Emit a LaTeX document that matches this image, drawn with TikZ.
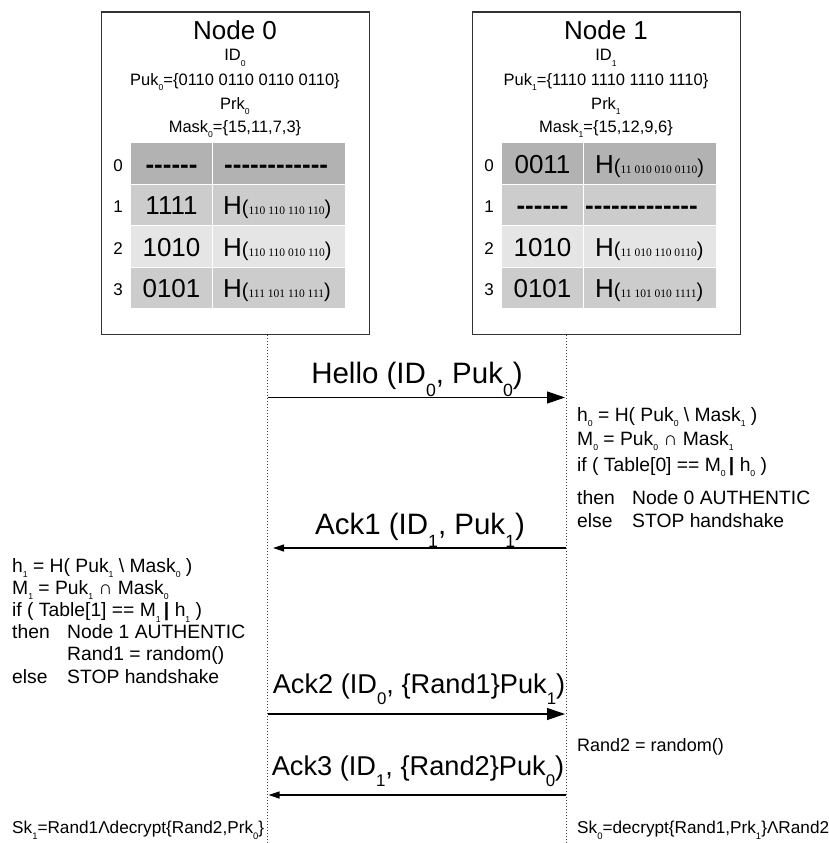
\documentclass[tikz,border=0pt]{standalone}
\usepackage{fontspec}
\setmainfont{Liberation Sans}
\newfontfamily\digitserif{Liberation Serif}
\usetikzlibrary{arrows.meta}

% font size in px-sized points
\newcommand\fs[1]{\fontsize{#1}{#1}\selectfont}
% lowered small index; size and drop are set per text style
\def\loscale{0.55}
\def\lodrop{0.4em}
\newcommand\lo[1]{\raisebox{-\lodrop}{\scalebox{\loscale}{#1}}}
% hash entry H(bits)
\newcommand\hash[1]{H{\fs{20}(}{\digitserif\fs{11.5}#1}{\fs{20})}}
% bold hyphen that does not merge into a dash ligature
\newcommand\hy{{\bfseries-}\kern0pt}

% one node panel: #1 name, #2 shift, #3 index, #4 Puk bits, #5 mask, #6 rows
\newcommand\panel[6]{%
\begin{scope}[xshift=#2]
  \node[panel] (#1) at (101,11.5) {};
  \node[txt,anchor=base] (#1-title) at (235,40) {\fs{26}Node #3};
  \node[head] (#1-id)   at (235,61) {ID\lo{#3}};
  \node[head] (#1-puk)  at (235,85) {Puk\lo{#3}=\{#4\}};
  \node[head] (#1-prk)  at (235,109) {Prk\lo{#3}};
  \node[head] (#1-mask) at (235,132) {Mask\lo{#3}=\{#5\}};
  \foreach \r/\yt/\shade/\ta/\tb/\hx in {#6}{
    \node[cell, fill=\shade, minimum width=81pt]  (#1-r\r a) at (131,\yt) {};
    \node[cell, fill=\shade, minimum width=132pt] (#1-r\r b) at (213,\yt) {};
    \node[txt,anchor=base] (#1-i\r) at (118,\yt+28) {\fs{17}\r};
    \node[txt,anchor=base] (#1-v\r) at (171.5,\yt+30) {\fs{26}\ta};
    \node[txt,anchor=base west] (#1-h\r) at (\hx,\yt+30) {\fs{26}\tb};
  }
\end{scope}}

\begin{document}
\begin{tikzpicture}[x=1pt,y=-1pt,
  panel/.style={draw=black!80, line width=1.1pt, fill=white, inner sep=0pt,
    minimum width=268pt, minimum height=322.5pt, anchor=north west},
  cell/.style={inner sep=0pt, anchor=north west, minimum height=40.5pt},
  txt/.style={inner sep=0pt},
  head/.style={inner sep=0pt, anchor=base,
    font={\fs{16.5}\def\loscale{0.52}\def\lodrop{0.36em}}},
  lifeline/.style={draw=black!75, line width=1pt, dash pattern=on 1pt off 2pt},
  msg/.style={draw=black, line width=1.2pt},
  bigtip/.style={-{Triangle[length=18pt,width=12pt]}},
  smalltip/.style={-{Triangle[length=11pt,width=7pt]}},
  lbl/.style={inner sep=0pt, anchor=base,
    font={\fs{28}\def\loscale{0.62}\def\lodrop{0.45em}}},
  step text/.style={inner sep=0pt, anchor=base west,
    font={\fs{19.3}\def\loscale{0.45}\def\lodrop{0.3em}}},
  key text/.style={inner sep=0pt, anchor=base west,
    font={\fs{17.2}\def\loscale{0.55}\def\lodrop{0.4em}}}]

\fill[white] (0,0) rectangle (829,843);
\useasboundingbox (0,0) rectangle (829,843);

\colorlet{rowA}{black!30}
\colorlet{rowB}{black!20}
\colorlet{rowC}{black!10}

% ---- the two nodes with their tables
\panel{n0}{0pt}{0}{0110 0110 0110 0110}{15,11,7,3}{
  0/143/rowA/{\hy\hy\hy\hy\hy\hy}/{\hy\hy\hy\hy\hy\hy\hy\hy\hy\hy\hy\hy}/224,
  1/184.5/rowB/{1111}/{\hash{110 110 110 110}}/223,
  2/226/rowC/{1010}/{\hash{110 110 010 110}}/223,
  3/267.5/rowB/{0101}/{\hash{111 101 110 111}}/223}
\panel{n1}{371pt}{1}{1110 1110 1110 1110}{15,12,9,6}{
  0/143/rowA/{0011}/{\hash{11 010 010 0110}}/224,
  1/184.5/rowB/{\hy\hy\hy\hy\hy\hy}/{\hy\hy\hy\hy\hy\hy\hy\hy\hy\hy\hy\hy\hy}/214,
  2/226/rowC/{1010}/{\hash{11 010 110 0110}}/224,
  3/267.5/rowB/{0101}/{\hash{11 101 010 1111}}/224}

% ---- lifelines
\coordinate (L0end) at (267.5,843);
\coordinate (L1end) at (566,843);
\draw[lifeline] (n0.south -| L0end) -- (L0end);
\draw[lifeline] (n1.south -| L1end) -- (L1end);

% ---- messages
\coordinate (m1a) at (267.5,397.5); \coordinate (m1b) at (565,397.5);
\coordinate (m2a) at (566,548);     \coordinate (m2b) at (273,548);
\coordinate (m3a) at (267.5,714);   \coordinate (m3b) at (565,714);
\coordinate (m4a) at (566,795);     \coordinate (m4b) at (268.5,795);
\draw[msg,bigtip]   (m1a) -- (m1b);
\draw[msg,smalltip] (m2a) -- (m2b);
\draw[msg,bigtip]   (m3a) -- (m3b);
\draw[msg,smalltip] (m4a) -- (m4b);
\node[lbl, font={\fs{29.5}\def\loscale{0.6}\def\lodrop{0.45em}}]
  (hello) at (417,383) {Hello (ID\lo{0}, Puk\lo{0})};
\node[lbl, font={\fs{29.5}\def\loscale{0.6}\def\lodrop{0.45em}}]
  (ack1)  at (420,534) {Ack1 (ID\lo{1}, Puk\lo{1})};
\node[lbl, font={\fs{27.2}\def\loscale{0.62}\def\lodrop{0.44em}}]
  (ack2)  at (419,693) {Ack2 (ID\lo{0}, \{Rand1\}Puk\lo{1})};
\node[lbl, font={\fs{27.2}\def\loscale{0.62}\def\lodrop{0.44em}}]
  (ack3)  at (418,775) {Ack3 (ID\lo{1}, \{Rand2\}Puk\lo{0})};

% ---- check made by node 1
\node[step text] (c1) at (577,421) {h\lo{0} = H( Puk\lo{0} \textbackslash\ Mask\lo{1} )};
\node[step text] (c2) at (577,445) {M\lo{0} = Puk\lo{0} ∩ Mask\lo{1}};
\node[step text] (c3) at (577,471) {if ( Table[0] == M\lo{0}\,\textbf{|} h\lo{0} )};
\node[step text] (c4) at (577,504) {\makebox[55pt][l]{then}Node 0 AUTHENTIC};
\node[step text] (c5) at (577,527) {\makebox[55pt][l]{else}STOP handshake};

% ---- check made by node 0
\node[step text] (d1) at (12,572)   {h\lo{1} = H( Puk\lo{1} \textbackslash\ Mask\lo{0} )};
\node[step text] (d2) at (12,594.2) {M\lo{1} = Puk\lo{1} ∩ Mask\lo{0}};
\node[step text] (d3) at (12,616.4) {if ( Table[1] == M\lo{1}\,\textbf{|} h\lo{1} )};
\node[step text] (d4) at (12,638.6) {\makebox[55pt][l]{then}Node 1 AUTHENTIC};
\node[step text] (d5) at (12,660.8) {\makebox[55pt][l]{}Rand1 = random()};
\node[step text] (d6) at (12,683)   {\makebox[55pt][l]{else}STOP handshake};

\node[step text, font=\fs{18}] (r2) at (577,751) {Rand2 = random()};

% ---- session keys
\node[key text] (sk1) at (12,833)  {Sk\lo{1}=Rand1Λdecrypt\{Rand2,Prk\lo{0}\}};
\node[key text] (sk0) at (577,833) {Sk\lo{0}=decrypt\{Rand1,Prk\lo{1}\}ΛRand2};
\end{tikzpicture}
\end{document}
